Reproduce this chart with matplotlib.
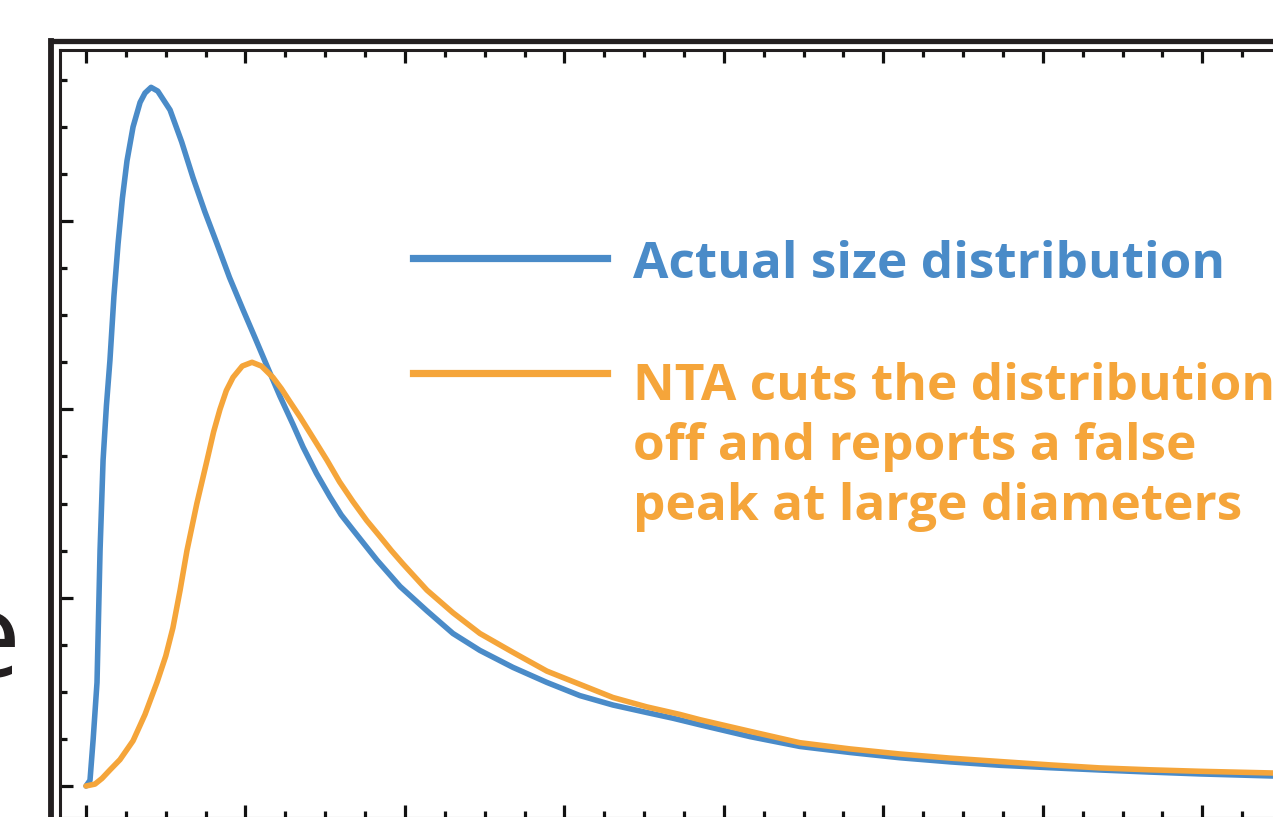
import matplotlib
matplotlib.use('Agg')
import matplotlib.pyplot as plt
from matplotlib.lines import Line2D
from matplotlib.ticker import MultipleLocator

# diameter (arbitrary units) and relative abundance
actual_x = [0, 2.5, 4.5, 6.9, 8.8, 10.7, 12.8, 15.0, 17.5, 20.1, 22.8, 25.7, 29.5, 33.9, 37.0,
            40.8, 45.0, 52.7, 60.0, 67.1, 74.5, 82.1, 90.0, 98.4, 106.0, 113.5, 121.6, 129.8,
            136.1, 144.5, 153.0, 160.0, 167.4, 182.4, 196.9, 213.8, 230.1, 247.0, 267.7, 289.0,
            309.7, 330.4, 351.7, 368.0, 385.0, 416.5, 447.6, 479.0, 510.3, 542.0, 573.0, 604.6,
            635.7, 667.0, 698.7, 744.2]
actual_y = [0, 0.03, 0.25, 0.55, 1.25, 1.73, 2.02, 2.26, 2.60, 2.88, 3.12, 3.32, 3.50, 3.63, 3.68,
            3.71, 3.69, 3.59, 3.42, 3.23, 3.05, 2.88, 2.70, 2.53, 2.38, 2.23, 2.07, 1.92,
            1.80, 1.66, 1.535, 1.44, 1.36, 1.20, 1.06, 0.93, 0.81, 0.72, 0.63, 0.55,
            0.48, 0.43, 0.39, 0.36, 0.325, 0.262, 0.21, 0.178, 0.15, 0.128, 0.11, 0.097,
            0.085, 0.074, 0.064, 0.053]

nta_x = [0, 5.6, 10.0, 15.0, 21.3, 29.5, 37.0, 44.5, 50.0, 54.5, 59.0, 63.3, 69.5, 75.9, 80.0,
         84.0, 88.0, 92.2, 98.0, 104.1, 110.0, 117.2, 122.5, 127.9, 134.2, 142.3, 151.1,
         159.0, 167.4, 176.0, 184.3, 191.5, 198.7, 213.8, 230.1, 247.0, 267.7, 289.0, 309.7,
         330.4, 351.7, 372.4, 385.0, 416.5, 447.6, 479.0, 510.3, 542.0, 573.0, 604.6, 635.7,
         667.0, 698.7, 744.2]
nta_y = [0, 0.01, 0.04, 0.085, 0.14, 0.24, 0.38, 0.55, 0.69, 0.84, 1.04, 1.25, 1.50, 1.73, 1.88,
         2.00, 2.10, 2.17, 2.23, 2.25, 2.23, 2.17, 2.11, 2.04, 1.96, 1.85, 1.73,
         1.615, 1.51, 1.41, 1.325, 1.25, 1.18, 1.04, 0.92, 0.81, 0.71, 0.61, 0.54,
         0.47, 0.42, 0.38, 0.352, 0.29, 0.23, 0.197, 0.17, 0.148, 0.13, 0.112, 0.096,
         0.086, 0.078, 0.069]

actual_label = 'Actual size distribution'
nta_label = 'NTA cuts the distribution\noff and reports a false\npeak at large diameters'

blue = '#4a8bc8'
orange = '#f5a53a'
dark = '#231f20'

W, H = 1273, 817
fig = plt.figure(figsize=(W / 100, H / 100), dpi=100)
fig.patch.set_facecolor('white')

# axes extend past the right and bottom edges (the picture is a crop)
left_px, right_px, top_px, bottom_px = 60.5, 1400, 49.5, 818
ax = fig.add_axes([left_px / W, 1 - bottom_px / H, (right_px - left_px) / W, (bottom_px - top_px) / H])
ax.set_xlim(-16.0, 824.0)
ax.set_ylim(-0.170, 3.911)

ax.plot(actual_x, actual_y, color=blue, lw=4.0, solid_joinstyle='round', solid_capstyle='round', zorder=3)
ax.plot(nta_x, nta_y, color=orange, lw=4.0, solid_joinstyle='round', solid_capstyle='round', zorder=4)

for s in ax.spines.values():
    s.set_linewidth(2.2)
    s.set_color(dark)
ax.xaxis.set_major_locator(MultipleLocator(100))
ax.xaxis.set_minor_locator(MultipleLocator(25))
ax.yaxis.set_major_locator(MultipleLocator(1))
ax.yaxis.set_minor_locator(MultipleLocator(0.25))
ax.tick_params(which='both', direction='in', top=True, right=True, bottom=True, left=True,
               labelbottom=False, labelleft=False, colors='#111111', width=2.3)
ax.tick_params(which='major', length=9.4)
ax.tick_params(which='minor', length=5.2)

# outer frame
fig.add_artist(Line2D([51 / W, 51 / W], [1 - 40.5 / H, -0.05], color=dark, lw=4.2, transform=fig.transFigure))
fig.add_artist(Line2D([51 / W, 1.05], [1 - 40.5 / H, 1 - 40.5 / H], color=dark, lw=3.8, transform=fig.transFigure))

# legend keys and text
fig.add_artist(Line2D([413 / W, 607 / W], [1 - 258 / H] * 2, color=blue, lw=5.2, transform=fig.transFigure))
fig.add_artist(Line2D([413 / W, 607 / W], [1 - 373 / H] * 2, color=orange, lw=5.2, transform=fig.transFigure))
fig.text(633 / W, 1 - 278 / H, actual_label, color=blue, fontsize=37, fontweight='bold',
         family='Open Sans', ha='left', va='baseline')
fig.text(633 / W, 1 - 520 / H, nta_label, color=orange, fontsize=37, fontweight='bold',
         family='Open Sans', ha='left', va='baseline', linespacing=1.26)

# cropped axis label fragment
fig.text(20 / W, 1 - 677 / H, 'e', color=dark, fontsize=86, family='Open Sans', ha='right', va='baseline')

plt.savefig('out.png', dpi=100)
plt.close()
